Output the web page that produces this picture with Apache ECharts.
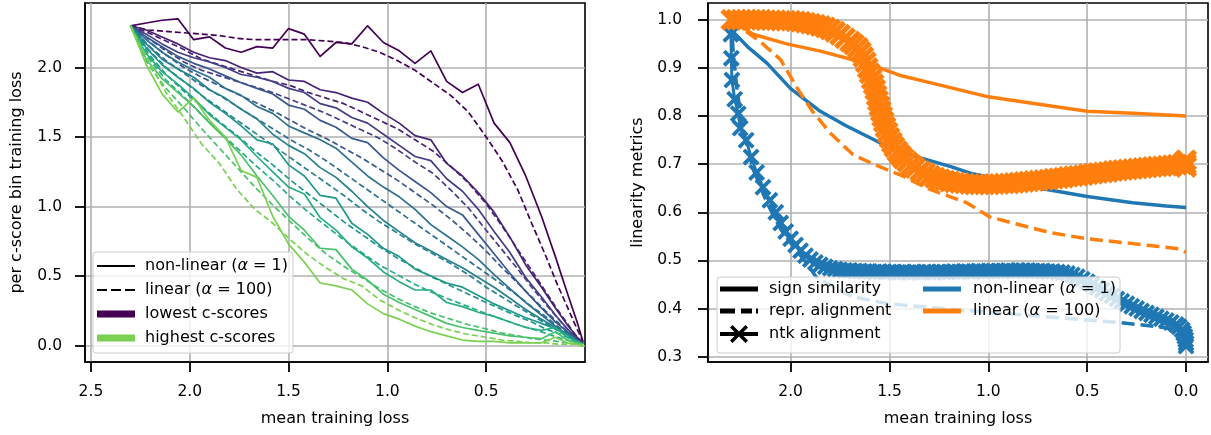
<!DOCTYPE html>
<html><head><meta charset="utf-8">
<script src="https://cdn.jsdelivr.net/npm/echarts@6/dist/echarts.min.js"></script>
<style>html,body{margin:0;padding:0;background:#fff}#c{width:1211px;height:435px}</style>
</head><body><div id="c"></div>
<script>
const FONT = 'DejaVu Sans';
// ---------- left panel data ----------
const lossNonlinear = [2.30,2.22,2.14,2.06,1.98,1.90,1.82,1.74,1.66,1.58,1.50,1.42,1.34,1.26,1.18,1.10,1.02,0.94,0.86,0.78,0.70,0.62,0.54,0.46,0.38,0.30,0.22,0.15,0.09,0.04,0.01];
const lossLinear = [2.30,2.21,2.12,2.03,1.94,1.85,1.76,1.67,1.58,1.49,1.40,1.31,1.22,1.13,1.04,0.95,0.86,0.77,0.68,0.59,0.50,0.42,0.34,0.27,0.20,0.14,0.09,0.05,0.02,0.01];
const nonlinearBin0 = [2.30,2.32,2.34,2.35,2.20,2.22,2.14,2.11,2.15,2.14,2.28,2.24,2.08,2.18,2.17,2.30,2.18,2.12,2.03,2.12,1.90,1.82,1.88,1.60,1.46,1.22,0.93,0.64,0.38,0.17,0.03];
const nonlinearBin1 = [2.30,2.27,2.22,2.17,2.11,2.07,2.05,2.00,1.96,1.97,1.91,1.90,1.84,1.82,1.78,1.75,1.67,1.60,1.51,1.48,1.31,1.22,1.10,0.96,0.78,0.58,0.42,0.27,0.15,0.06,0.02];
const nonlinearBin2 = [2.30,2.24,2.17,2.11,2.07,2.04,2.00,1.95,1.93,1.90,1.85,1.82,1.74,1.71,1.64,1.60,1.52,1.44,1.36,1.33,1.20,1.11,0.98,0.82,0.67,0.49,0.35,0.22,0.12,0.05,0.01];
const nonlinearBin3 = [2.30,2.22,2.15,2.08,2.03,1.99,1.94,1.89,1.85,1.81,1.73,1.70,1.62,1.57,1.49,1.46,1.35,1.26,1.18,1.10,1.00,0.94,0.80,0.66,0.52,0.39,0.27,0.17,0.10,0.04,0.01];
const nonlinearBin4 = [2.30,2.20,2.11,2.04,1.98,1.93,1.85,1.80,1.72,1.67,1.58,1.53,1.48,1.42,1.32,1.22,1.14,1.07,0.98,0.87,0.79,0.71,0.62,0.51,0.41,0.31,0.22,0.14,0.08,0.03,0.01];
const nonlinearBin5 = [2.30,2.17,2.06,1.99,1.93,1.84,1.78,1.70,1.63,1.52,1.44,1.38,1.28,1.21,1.11,1.00,0.90,0.82,0.74,0.68,0.62,0.56,0.49,0.42,0.34,0.26,0.19,0.13,0.08,0.03,0.01];
const nonlinearBin6 = [2.30,2.14,2.02,1.93,1.85,1.75,1.67,1.58,1.48,1.45,1.30,1.22,1.08,1.06,0.88,0.80,0.70,0.64,0.55,0.50,0.45,0.42,0.36,0.30,0.25,0.20,0.16,0.12,0.08,0.03,0.01];
const nonlinearBin7 = [2.30,2.10,1.97,1.88,1.78,1.66,1.57,1.48,1.36,1.25,1.14,1.09,0.92,0.83,0.71,0.63,0.53,0.46,0.40,0.40,0.31,0.28,0.24,0.21,0.17,0.13,0.11,0.13,0.06,0.03,0.01];
const nonlinearBin8 = [2.30,2.06,1.92,1.82,1.72,1.60,1.49,1.37,1.22,1.08,0.93,0.83,0.70,0.69,0.55,0.47,0.37,0.31,0.26,0.21,0.16,0.13,0.11,0.09,0.07,0.06,0.05,0.10,0.04,0.02,0.01];
const nonlinearBin9 = [2.30,2.02,1.81,1.68,1.78,1.62,1.50,1.26,1.21,0.93,0.73,0.60,0.45,0.43,0.40,0.30,0.23,0.19,0.14,0.10,0.07,0.04,0.03,0.03,0.02,0.02,0.02,0.06,0.02,0.01,0.00];
const linearBin0 = [2.30,2.27,2.26,2.25,2.24,2.23,2.21,2.20,2.20,2.20,2.20,2.19,2.18,2.15,2.11,2.05,1.98,1.89,1.80,1.68,1.50,1.33,1.12,0.88,0.65,0.44,0.28,0.15,0.06,0.02];
const linearBin1 = [2.30,2.25,2.19,2.13,2.06,2.02,1.98,1.94,1.90,1.87,1.82,1.78,1.74,1.68,1.62,1.56,1.48,1.40,1.29,1.17,1.02,0.86,0.69,0.54,0.39,0.26,0.16,0.08,0.03,0.01];
const linearBin2 = [2.30,2.21,2.12,2.04,1.98,1.94,1.90,1.86,1.82,1.77,1.72,1.67,1.61,1.55,1.49,1.41,1.32,1.24,1.12,0.99,0.83,0.69,0.55,0.42,0.30,0.20,0.12,0.06,0.02,0.01];
const linearBin3 = [2.30,2.19,2.09,2.00,1.93,1.87,1.81,1.75,1.69,1.62,1.55,1.49,1.42,1.35,1.27,1.19,1.10,1.01,0.91,0.80,0.68,0.56,0.45,0.35,0.25,0.17,0.10,0.05,0.02,0.01];
const linearBin4 = [2.30,2.16,2.05,1.96,1.87,1.80,1.72,1.64,1.56,1.48,1.41,1.33,1.24,1.15,1.06,0.97,0.88,0.79,0.70,0.61,0.52,0.44,0.36,0.28,0.21,0.14,0.09,0.05,0.02,0.01];
const linearBin5 = [2.30,2.13,2.00,1.90,1.80,1.71,1.62,1.53,1.44,1.35,1.26,1.17,1.08,0.98,0.89,0.81,0.73,0.66,0.59,0.51,0.42,0.35,0.28,0.22,0.16,0.11,0.07,0.04,0.02,0.01];
const linearBin6 = [2.30,2.10,1.95,1.83,1.72,1.61,1.51,1.40,1.30,1.19,1.09,0.99,0.89,0.80,0.71,0.63,0.56,0.49,0.43,0.37,0.31,0.26,0.21,0.17,0.12,0.09,0.06,0.03,0.01,0.00];
const linearBin7 = [2.30,2.07,1.91,1.79,1.66,1.54,1.42,1.30,1.19,1.07,0.96,0.86,0.76,0.67,0.58,0.51,0.44,0.38,0.33,0.28,0.23,0.19,0.15,0.12,0.09,0.06,0.04,0.02,0.01,0.00];
const linearBin8 = [2.30,2.02,1.85,1.71,1.56,1.42,1.28,1.14,1.01,0.89,0.77,0.66,0.57,0.49,0.41,0.34,0.28,0.23,0.19,0.15,0.12,0.09,0.07,0.05,0.04,0.03,0.02,0.01,0.01,0.00];
const linearBin9 = [2.30,2.05,1.82,1.64,1.45,1.31,1.12,0.98,0.88,0.76,0.65,0.56,0.48,0.43,0.33,0.26,0.20,0.15,0.11,0.08,0.06,0.04,0.03,0.02,0.02,0.01,0.01,0.01,0.00,0.00];
const binColors = ['#440154','#482374','#433e85','#38588c','#2c718e','#26828e','#1f978b','#28ae80','#4ac16d','#7ad151'];
const leftXTicks = [0.5,1.0,1.5,2.0,2.5];
const leftYTicks = [0.0,0.5,1.0,1.5,2.0];

// ---------- right panel data ----------
const signNonlinear = [[2.30,1.0],[2.29,0.975],[2.22,0.945],[2.12,0.91],[2.00,0.857],[1.85,0.81],[1.72,0.78],[1.55,0.745],[1.40,0.72],[1.19,0.695],[1.08,0.68],[0.90,0.665],[0.77,0.652],[0.50,0.633],[0.27,0.62],[0.10,0.613],[0.0,0.61]];
const reprNonlinear = [[2.30,1.0],[2.29,0.93],[2.27,0.85],[2.24,0.77],[2.19,0.69],[2.12,0.62],[2.05,0.565],[1.98,0.525],[1.92,0.495],[1.87,0.465],[1.69,0.425],[1.51,0.41],[1.11,0.396],[0.77,0.385],[0.33,0.371],[0.10,0.36],[0.02,0.35],[0.0,0.34]];
const ntkNonlinear = [[2.300,1.000],[2.302,0.970],[2.300,0.920],[2.297,0.875],[2.283,0.835],[2.265,0.805],[2.255,0.775],[2.225,0.750],[2.200,0.715],[2.172,0.683],[2.140,0.652],[2.105,0.625],[2.075,0.600],[2.050,0.578],[2.025,0.560],[2.000,0.545],[1.975,0.532],[1.950,0.520],[1.925,0.510],[1.900,0.502],[1.875,0.496],[1.850,0.491],[1.825,0.487],[1.800,0.484],[1.775,0.482],
[1.750,0.480],[1.725,0.479],[1.700,0.479],[1.675,0.478],[1.650,0.478],[1.625,0.477],[1.600,0.477],[1.575,0.476],[1.550,0.477],[1.525,0.476],[1.500,0.476],[1.475,0.476],[1.450,0.475],[1.425,0.476],[1.400,0.475],[1.375,0.476],[1.350,0.475],[1.325,0.476],[1.300,0.476],[1.275,0.475],[1.250,0.476],[1.225,0.476],[1.200,0.476],[1.175,0.477],[1.150,0.476],[1.125,0.477],[1.100,0.477],[1.075,0.477],[1.050,0.478],[1.025,0.477],[1.000,0.478],[0.975,0.478],[0.950,0.478],[0.925,0.478],[0.900,0.479],[0.875,0.478],[0.850,0.479],[0.825,0.479],[0.800,0.479],[0.775,0.478],[0.750,0.478],[0.725,0.478],[0.700,0.477],[0.675,0.477],[0.650,0.476],[0.625,0.475],
[0.600,0.473],[0.575,0.470],[0.550,0.466],[0.525,0.461],[0.500,0.456],[0.475,0.450],[0.450,0.444],[0.425,0.438],[0.400,0.432],[0.375,0.426],[0.350,0.420],[0.325,0.415],[0.300,0.410],[0.275,0.405],[0.250,0.400],[0.225,0.395],[0.200,0.391],[0.175,0.387],[0.150,0.383],[0.125,0.379],[0.100,0.375],[0.075,0.371],[0.050,0.367],[0.035,0.362],[0.020,0.356],[0.012,0.349],[0.006,0.342],[0.002,0.335],[0.000,0.328],[0.000,0.322]];
const signLinear = [[2.30,1.0],[2.19,0.97],[2.02,0.95],[1.85,0.935],[1.685,0.917],[1.55,0.90],[1.45,0.885],[1.28,0.868],[1.0,0.84],[0.77,0.826],[0.5,0.81],[0.27,0.806],[0.0,0.80]];
const reprLinear = [[2.30,1.0],[2.29,0.995],[2.155,0.955],[2.05,0.917],[1.97,0.86],[1.89,0.81],[1.80,0.765],[1.685,0.72],[1.58,0.70],[1.43,0.675],[1.31,0.65],[1.11,0.62],[0.99,0.59],[0.69,0.558],[0.5,0.545],[0.27,0.535],[0.05,0.525],[0.0,0.517]];
const ntkLinear = [[2.300,1.000],[2.275,1.000],[2.250,1.000],[2.225,1.000],[2.200,1.000],[2.175,1.000],[2.150,1.000],[2.125,0.999],[2.100,0.999],[2.075,0.999],[2.050,0.998],[2.025,0.998],[2.000,0.998],[1.975,0.997],[1.950,0.996],[1.925,0.994],[1.900,0.992],[1.875,0.990],[1.850,0.987],[1.825,0.984],[1.800,0.980],[1.775,0.975],[1.750,0.969],[1.725,0.962],[1.700,0.955],[1.680,0.949],[1.660,0.942],[1.645,0.933],[1.632,0.923],[1.620,0.912],[1.610,0.900],[1.600,0.889],[1.590,0.877],[1.580,0.866],[1.572,0.855],[1.565,0.843],[1.558,0.832],[1.551,0.821],[1.544,0.810],[1.537,0.799],[1.529,0.788],[1.520,0.777],[1.510,0.766],[1.500,0.755],[1.488,0.745],[1.475,0.736],[1.460,0.727],[1.445,0.719],[1.430,0.712],[1.410,0.705],[1.390,0.698],[1.370,0.692],[1.345,0.686],[1.320,0.681],[1.295,0.676],[1.270,0.672],[1.245,0.669],[1.220,0.666],[1.195,0.664],[1.170,0.662],[1.145,0.661],[1.120,0.660],[1.095,0.659],[1.070,0.658],[1.045,0.658],[1.020,0.658],[0.995,0.658],[0.970,0.659],[0.945,0.659],[0.920,0.660],[0.895,0.660],[0.870,0.661],[0.845,0.662],[0.820,0.663],[0.795,0.664],[0.770,0.665],[0.745,0.666],[0.720,0.667],[0.695,0.668],[0.670,0.670],[0.645,0.671],[0.620,0.672],[0.595,0.674],[0.570,0.675],[0.545,0.676],[0.520,0.677],[0.495,0.679],[0.470,0.680],[0.445,0.682],[0.420,0.683],[0.395,0.684],[0.370,0.686],[0.345,0.687],[0.320,0.688],[0.295,0.689],[0.270,0.690],[0.245,0.691],[0.220,0.692],[0.195,0.693],[0.170,0.694],[0.145,0.695],[0.120,0.696],[0.095,0.697],[0.070,0.698],[0.045,0.699],[0.020,0.700],[0.008,0.705],[0.000,0.694],[0.000,0.708],[0.000,0.700]];
const rightXTicks = [0.0,0.5,1.0,1.5,2.0];
const rightYTicks = [0.3,0.4,0.5,0.6,0.7,0.8,0.9,1.0];

const BLUE = '#1f77b4', ORANGE = '#ff7f0e';
const X_MARK = 'path://M16,0L50,34L84,0L100,16L66,50L100,84L84,100L50,66L16,100L0,84L34,50L0,16Z';

const nonlinearBins = [nonlinearBin0,nonlinearBin1,nonlinearBin2,nonlinearBin3,nonlinearBin4,nonlinearBin5,nonlinearBin6,nonlinearBin7,nonlinearBin8,nonlinearBin9];
const linearBins = [linearBin0,linearBin1,linearBin2,linearBin3,linearBin4,linearBin5,linearBin6,linearBin7,linearBin8,linearBin9];

const series = [];
for (let i = 0; i < nonlinearBins.length; i++) {
  series.push({ type:'line', xAxisIndex:0, yAxisIndex:0, symbol:'none', silent:true, z:2,
    data: lossNonlinear.map((x,j)=>[x, nonlinearBins[i][j]]),
    lineStyle:{ color:binColors[i], width:1.7, join:'round' } });
  series.push({ type:'line', xAxisIndex:0, yAxisIndex:0, symbol:'none', silent:true, z:2,
    data: lossLinear.map((x,j)=>[x, linearBins[i][j]]),
    lineStyle:{ color:binColors[i], width:1.7, type:[6,3] } });
}
function rline(data, color, dashed){
  return { type:'line', xAxisIndex:1, yAxisIndex:1, symbol:'none', silent:true, data, z:2,
    lineStyle:{ color, width:3.5, type: dashed ? [13,6] : 'solid', join:'round' } };
}
function rntk(data, color, size){
  return { type:'line', xAxisIndex:1, yAxisIndex:1, silent:true, data, z:2,
    symbol:X_MARK, symbolSize:size, showSymbol:true, showAllSymbol:true,
    itemStyle:{ color }, lineStyle:{ color, width:3 } };
}
series.push(rline(signNonlinear, BLUE, false));
series.push(rline(reprNonlinear, BLUE, true));
series.push(rntk(ntkNonlinear, BLUE, 17));
series.push(rline(signLinear, ORANGE, false));
series.push(rline(reprLinear, ORANGE, true));
series.push(rntk(ntkLinear, ORANGE, 22));

// legend-only series
function legSeries(name, color){
  return { name, type:'line', xAxisIndex:1, yAxisIndex:1, data:[], itemStyle:{color}, lineStyle:{color} };
}
series.push(legSeries('L_nl','#000'), legSeries('L_lin','#000'), legSeries('L_low','#440154'), legSeries('L_high','#7ad151'));
series.push(legSeries('R_sign','#000'), legSeries('R_repr','#000'), legSeries('R_ntk','#000'), legSeries('R_nl',BLUE), legSeries('R_lin',ORANGE));

const LABELS = {
  L_nl:'{t|non-linear (}{i|α}{t| = 1)}', L_lin:'{t|linear (}{i|α}{t| = 100)}',
  L_low:'{t|lowest c-scores}', L_high:'{t|highest c-scores}',
  R_sign:'{t|sign similarity}', R_repr:'{t|repr. alignment}', R_ntk:'{t|ntk alignment}',
  R_nl:'{t|non-linear (}{i|α}{t| = 1)}', R_lin:'{t|linear (}{i|α}{t| = 100)}'
};
const rich = { t:{fontFamily:FONT, fontSize:16, color:'#000'}, i:{fontFamily:FONT, fontSize:16, fontStyle:'italic', color:'#000'} };
function legend(left, top, itemHeight, itemGap, pad, items){
  return { left, top, orient:'vertical', itemWidth:38, itemHeight, itemGap, padding:0, selectedMode:false,
    zlevel:2, z:10,
    itemStyle:{borderWidth:0}, data: items, formatter: n => LABELS[n],
    textStyle:{ fontFamily:FONT, fontSize:16, color:'#000', padding:[0,0,0,pad], rich } };
}
const ICON_THIN = 'path://M0,0H38V2H0Z';
const ICON_THIN_DASH = 'path://M0,0H10V2H0ZM14,0H24V2H14ZM28,0H38V2H28Z';
const ICON_THICK = 'path://M0,0H38V7H0Z';
const ICON_MED = 'path://M0,0H38V5H0Z';
const ICON_MED_DASH = 'path://M0,0H15V5H0ZM21,0H32V5H21ZM36,0H38V5H36Z';
const ICON_NTK = 'path://M0,7H38V11H0ZM12.5,0L19,6.5L25.5,0L28,2.5L21.5,9L28,15.5L25.5,18L19,11.5L12.5,18L10,15.5L16.5,9L10,2.5Z';

function valueAxis(grid, min, max, ticks, margin, opts){
  return Object.assign({
    gridIndex:grid, type:'value', min, max,
    axisLine:{ show:true, onZero:false, lineStyle:{color:'#000', width:1.6} },
    axisTick:{ show:true, length:10, customValues:ticks, lineStyle:{color:'#000', width:1.8} },
    axisLabel:{ customValues:ticks, formatter: v => v.toFixed(1), margin,
      fontFamily:FONT, fontSize:15.5, color:'#000' },
    splitLine:{ show:true, lineStyle:{ color:'#b0b0b0', width:1.6 } },
    nameLocation:'middle', nameTextStyle:{ fontFamily:FONT, fontSize:16, color:'#000' }
  }, opts);
}
const xa0 = valueAxis(0, 0, 2.53, leftXTicks, 22, { inverse:true, name:'mean training loss', nameGap:49 });
const xa1 = valueAxis(1, -0.111, 2.418, rightXTicks, 22, { inverse:true, name:'mean training loss', nameGap:49 });
const ya0 = valueAxis(0, -0.118, 2.464, leftYTicks, 23, { name:'per c-score bin training loss', nameGap:60 });
const ya1 = valueAxis(1, 0.289, 1.035, rightYTicks, 26, { name:'linearity metrics', nameGap:62, splitNumber:7 });

const option = {
  animation:false,
  textStyle:{ fontFamily:FONT },
  grid:[
    { left:85, top:3, width:500, height:359, show:true, borderColor:'#000', borderWidth:1.6, backgroundColor:'transparent' },
    { left:708, top:3, width:500, height:359, show:true, borderColor:'#000', borderWidth:1.6, backgroundColor:'transparent' }
  ],
  xAxis:[xa0, xa1],
  yAxis:[ya0, ya1],
  graphic:{ zlevel:1, elements:[
    { type:'rect', zlevel:1, z:5, shape:{x:93, y:252, width:200, height:101, r:3}, style:{fill:'rgba(255,255,255,0.8)', stroke:'#cccccc', lineWidth:1} },
    { type:'rect', zlevel:1, z:5, shape:{x:717, y:277, width:403, height:76, r:3}, style:{fill:'rgba(255,255,255,0.8)', stroke:'#cccccc', lineWidth:1} }
  ]},
  legend:[
    legend(97, 258, 16, 8, 5, [
      {name:'L_nl', icon:ICON_THIN}, {name:'L_lin', icon:ICON_THIN_DASH},
      {name:'L_low', icon:ICON_THICK}, {name:'L_high', icon:ICON_THICK}]),
    legend(720, 281, 18, 6, 6, [
      {name:'R_sign', icon:ICON_MED}, {name:'R_repr', icon:ICON_MED_DASH}, {name:'R_ntk', icon:ICON_NTK}]),
    legend(923, 281, 18, 6, 7, [
      {name:'R_nl', icon:ICON_MED}, {name:'R_lin', icon:ICON_MED}])
  ],
  series
};
const chart = echarts.init(document.getElementById('c'), null, {renderer:'canvas'});
chart.setOption(option);
</script>
</body></html>
